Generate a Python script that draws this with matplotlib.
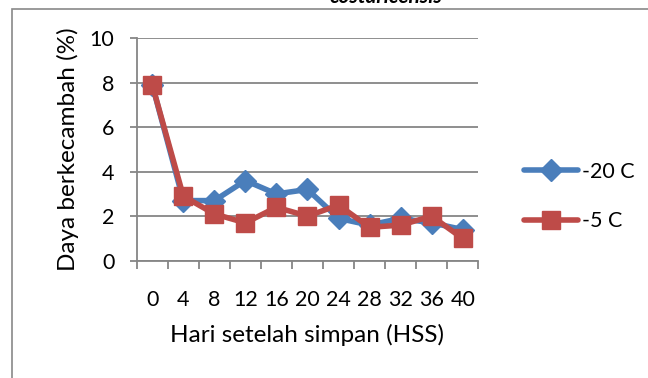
import matplotlib.pyplot as plt
from matplotlib.patches import Rectangle
import numpy as np

# Days after storage and germination (%) at the two storage temperatures
days = ['0', '4', '8', '12', '16', '20', '24', '28', '32', '36', '40']
minus20 = [7.9, 2.7, 2.7, 3.6, 3.0, 3.2, 1.9, 1.6, 1.9, 1.7, 1.4]
minus5 = [7.9, 2.9, 2.1, 1.7, 2.4, 2.0, 2.5, 1.5, 1.6, 2.0, 1.0]

plt.rcParams['font.family'] = ['Lato', 'DejaVu Sans']

grey = '#868686'
blue = '#4A7EBB'
red = '#BE4B48'

fig = plt.figure(figsize=(6.48, 3.78), dpi=100)
ax = fig.add_axes([0.211, 0.3103, 0.527, 0.589])

x = np.arange(len(days))
ax.plot(x, minus20, color=blue, linewidth=4, marker='D', markersize=11,
        markeredgecolor=blue, label='-20 C', solid_capstyle='round')
ax.plot(x, minus5, color=red, linewidth=4, marker='s', markersize=13,
        markeredgecolor=red, label='-5 C', solid_capstyle='round')

ax.set_xlim(-0.5, len(days) - 0.5)
ax.set_ylim(0, 10)
ax.set_yticks(range(0, 11, 2))
ax.yaxis.grid(True, color=grey, linewidth=1.3)
ax.set_axisbelow(True)

ax.set_xticks(x)
ax.set_xticklabels(days)
ax.set_xticks(np.arange(-0.5, len(days)), minor=True)
ax.tick_params(axis='x', which='major', length=0, pad=21, labelsize=15.5)
ax.tick_params(axis='x', which='minor', length=6, width=1.3, color=grey, direction='out')
ax.tick_params(axis='y', length=5, width=1.3, color=grey, pad=11, labelsize=15.5)

for side in ['top', 'right']:
    ax.spines[side].set_visible(False)
for side in ['left', 'bottom']:
    ax.spines[side].set_color(grey)
    ax.spines[side].set_linewidth(1.3)

ax.set_ylabel('Daya berkecambah (%)', fontsize=17.5, labelpad=8)
ax.set_xlabel('Hari setelah simpan (HSS)', fontsize=17.5, labelpad=10)

ax.legend(loc='center left', bbox_to_anchor=(0.795, 0.48), bbox_transform=fig.transFigure,
          frameon=False, fontsize=15.5, handlelength=2.5, handletextpad=0.2,
          labelspacing=1.35, borderaxespad=0)

# chart frame and the title that sits above it
fig.patches.append(Rectangle((12 / 648, -0.05), 1.0, 1 - 9 / 378 + 0.05,
                             transform=fig.transFigure, fill=False,
                             edgecolor='#898989', linewidth=1.2))
fig.text(0.595, 1 - 3 / 378, 'costaricensis', ha='center', va='baseline',
         fontsize=15, style='italic', fontweight='bold')

fig.savefig('out.png', dpi=100)
